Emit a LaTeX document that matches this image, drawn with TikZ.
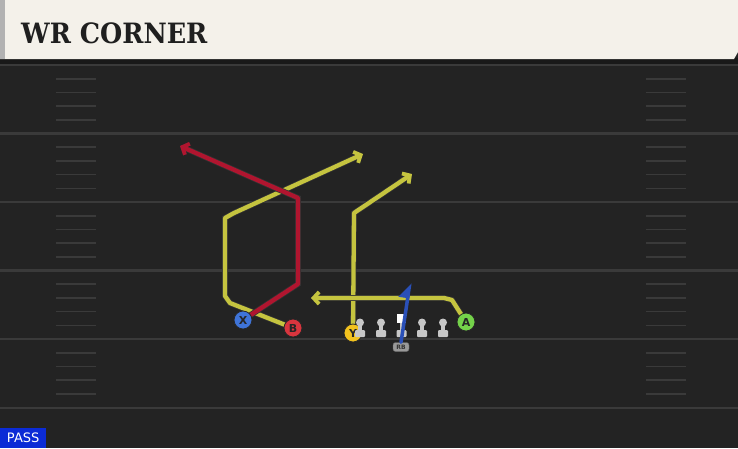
\documentclass[tikz,border=0pt]{standalone}
\usepackage{fontspec}
\setmainfont{DejaVu Sans}
\newfontfamily\titlefont{DejaVu Serif}
\usetikzlibrary{arrows.meta,positioning}

\definecolor{field}{HTML}{232323}
\definecolor{yardline}{HTML}{3A3A3A}
\definecolor{header}{HTML}{F4F1EA}
\definecolor{routeyellow}{HTML}{C5C43F}
\definecolor{routered}{HTML}{B0152F}
\definecolor{rbblue}{HTML}{2A50B8}
\definecolor{xblue}{HTML}{3F74D8}
\definecolor{bred}{HTML}{D8353E}
\definecolor{yyellow}{HTML}{F2C21E}
\definecolor{agreen}{HTML}{74D24A}
\definecolor{passblue}{HTML}{0B2BD6}

\pgfdeclarelayer{bg}
\pgfsetlayers{bg,main}

\tikzset{
  player/.style={circle,draw=black!85,line width=0.8pt,minimum size=18pt,inner sep=0pt,
    font=\bfseries\fontsize{11}{11}\selectfont,text=black!85},
  route/.style={line width=4.3pt,line cap=round,line join=round,
    preaction={draw=black!80,line width=5.8pt}},
  tip/.style={-{Straight Barb[length=5.5pt,width=12pt,line width=3.8pt]}},
  hash/.style={draw=yardline,line width=1.6pt},
  lineman/.style={fill=black!22}
}

\begin{document}
\begin{tikzpicture}[x=1pt,y=-1pt]
\begin{pgfonlayer}{bg}
% field
\fill[field] (0,0) rectangle (738,448);
\useasboundingbox (0,0) rectangle (738,448);
\foreach \y in {65,133.5,202,270.5,339,408}
  \draw[yardline,line width=2.2pt] (0,\y) -- (738,\y);
\foreach \y in {65,133.5,202,270.5,339}
  \foreach \k in {1,2,3,4} {
    \draw[hash] (56,\y+13.7*\k) -- (96,\y+13.7*\k);
    \draw[hash] (646,\y+13.7*\k) -- (686,\y+13.7*\k);
  }
% header
\fill[black!90] (0,58) rectangle (738,64);
\fill[header] (0,0) -- (738,0) -- (738,52) -- (734,59) -- (0,59) -- cycle;
\fill[black!30] (0,0) rectangle (5,59);
\end{pgfonlayer}

\node[anchor=west,inner sep=0pt,font=\titlefont\bfseries\fontsize{28}{28}\selectfont,text=black!88] (title) at (21,33) {\scalebox{0.91}[1]{WR CORNER}};

% players
\node[player,fill=xblue] (X) at (243,320) {X};
\node[player,fill=bred] (B) at (293,328) {B};
\node[player,fill=yyellow] (Y) at (353,333) {Y};
\node[player,fill=agreen] (A) at (466,322) {A};
\node[rounded corners=2.5pt,fill=black!40,draw=black!60,font=\bfseries\fontsize{6}{6}\selectfont,
  inner sep=1.5pt,minimum width=16pt,minimum height=9pt,text=black!80] (RB) at (401,347) {RB};

% line
\foreach \x in {360,381,422,443} {
  \fill[lineman] (\x,322.5) circle (4);
  \fill[lineman] (\x-2,325) rectangle (\x+2,331);
  \fill[lineman,rounded corners=1pt] (\x-5,330) rectangle (\x+5,337);
}
\fill[lineman] (399.5,322) rectangle (403.5,331);
\fill[lineman,rounded corners=1pt] (396.5,330) rectangle (406.5,337);
\fill[white] (397,314) rectangle (406,323);

% route points
\coordinate (b1) at (230,303);
\coordinate (b2) at (225,296);
\coordinate (b3) at (225,218);
\coordinate (b4) at (234,213);
\coordinate (bend) at (363,154);
\coordinate (x1) at (298,284);
\coordinate (x2) at (298,198);
\coordinate (xend) at (180,146);
\coordinate (y1) at (354,213);
\coordinate (yend) at (412,174);
\coordinate (a1) at (452,300);
\coordinate (a2) at (444,298);
\coordinate (aend) at (311,298);
\coordinate (rbend) at (410,283);

\begin{pgfonlayer}{bg}
\draw[route,routeyellow,tip] (B.center) -- (b1) -- (b2) -- (b3) -- (b4) -- (bend);
\draw[route,routered,tip] (X.center) -- (x1) -- (x2) -- (xend);
\draw[route,routeyellow,tip] (Y.center) -- (y1) -- (yend);
\draw[route,routeyellow,tip] (A.center) -- (a1) -- (a2) -- (aend);
\end{pgfonlayer}
\draw[rbblue,line width=3.5pt,line cap=round,-{Triangle[harpoon,length=13pt,width=18pt]}]
  (RB.north) -- (rbend);

% play type
\node[fill=passblue,anchor=south west,minimum width=46pt,minimum height=20pt,inner sep=0pt,
  text=white,font=\fontsize{13}{13}\selectfont] (pass) at (0,448) {PASS};
\end{tikzpicture}
\end{document}
